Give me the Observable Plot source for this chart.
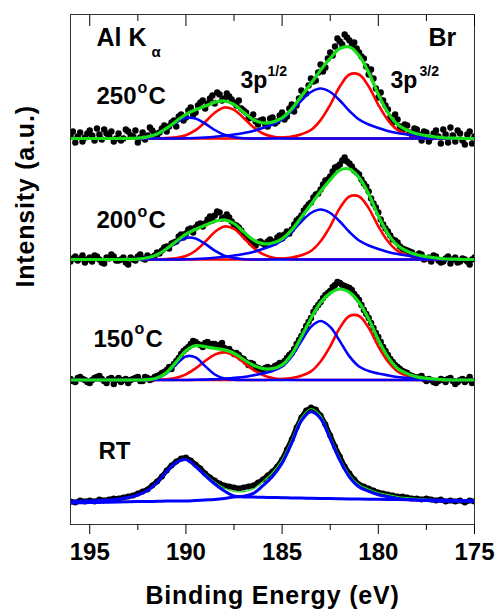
<!DOCTYPE html>
<html><head><meta charset="utf-8">
<script src="https://cdn.jsdelivr.net/npm/d3@7"></script>
<script src="https://cdn.jsdelivr.net/npm/@observablehq/plot@0.6"></script>
<style>
body{margin:0;background:#fff;}
#chart svg{display:block;}
</style></head><body><div id="chart"></div>
<script>
// ---------- data (heights above each panel's baseline, arbitrary units) ----------
const panelNames = ["RT", "150", "200", "250"];
const panelBaselines = [23, 144.5, 265, 386];
const majorTicks = [195, 190, 185, 180, 175];
const minorTicks = [192.5, 187.5, 182.5, 177.5];
// sampling grids (eV)
const fitEnergies = d3.range(43).map(i => 196 - i * 0.5);
const dataEnergies = d3.range(85).map(i => 196 - i * 0.25);
const denseEnergies = d3.range(169).map(i => 196 - i * 0.125);

// 250 °C  (measured points on the 0.25 eV grid, and the in-between points)
const data250 = [3,-4,6,1,8,-2,4,9,2,-3, 5,0,7,2,-4,6,3,8,2,10, 7,16,12,24,21,31,26,36,30,40, 35,44,40,42,36,38,28,20,24,14, 19,12,21,17,26,22,34,33,48,45, 60,58,74,71,86,92,97,104,98,96, 86,80,64,60,41,38,29,16,19,8, 13,3,9,-2,6,1,8,-5,4,11, -3,5,-6,7,2];
const mid250 = [7,2,-3,5,3,10,-1,5,7,0, -2,9,3,8,1,-1,11,5,6,13, 12,18,22,18,28,24,33,38,35,43, 46,38,45,39,33,30,26,21,17,18, 14,20,15,23,19,30,27,40,44,53, 57,66,67,80,83,100,94,101,93,90, 82,72,69,50,46,33,21,24,12,14, 6,10,4,7,-3,5,2,9,-4,3, 8,-2,4,-5];
const env250 = [0,0,0,0,0,0,0.1,0.4,1.6,4.5, 10.3,17.4,24.2,28.8,32.4,36.1,37.5,34,26.3,18.9, 15.5,16.4,20.6,29.6,42.3,55,68.4,80.2,90,91.5, 83,66,44.2,25.9,14,8.3,4.7,2.8,1.5,0.5, 0.3,0,0];
const redBig250 = [0,0,0,0,0,0,0,0,0,0, 0,0,0,0,0,0,0,0,0,0, 0,0.5,1,1.9,4.3,8.5,18.4,33.7,52,64, 64,52,33.7,18.4,8.5,4.3,1.9,1,0.5,0, 0,0,0];
const redSmall250 = [0,0,0,0,0,0,0,0,0,0, 0.5,1.2,3.3,8.3,16.5,25.8,31,28.7,20.5,11.4, 5,1.9,0.6,0.2,0,0,0,0,0,0, 0,0,0,0,0,0,0,0,0,0, 0,0,0];
const blueBig250 = [0,0,0,0,0,0,0,0,0,0, 0,0,0.25,0.5,1,1.75,2.75,4,5.5,7.5, 10.5,14,19,27.5,38,46.5,50,46.5,38,27.5, 19,14,10.5,7.5,5.5,4,2.75,1.75,1,0.5, 0.25,0,0];
const blueSmall250 = [0,0,0,0,0,0,0.1,0.4,1.6,4.5, 9.8,16.2,20.6,20,14.9,8.5,3.7,1.3,0.3,0, 0,0,0,0,0,0,0,0,0,0, 0,0,0,0,0,0,0,0,0,0, 0,0,0];

// 200 °C
const data200 = [-2,3,1,-3,2,4,0,-4,1,3, -1,2,-5,0,3,1,4,2,7,9, 13,16,18,25,26,31,32,36,36,43, 44,47,42,42,35,32,25,20,15,17, 16,18,18,22,21,28,30,39,44,52, 57,65,70,79,83,92,95,102,96,89, 85,76,68,56,47,35,28,20,17,11, 9,7,3,5,1,-2,3,-3,1,-4, 2,-2,0,-5,2];
const mid200 = [1,-1,4,0,-2,3,-3,2,5,-1, 0,-3,2,-1,5,0,2,4,6,12, 11,17,23,22,30,27,35,33,40,39, 48,41,45,38,34,29,22,17,14,18, 14,20,17,24,25,26,35,41,49,55, 62,66,75,80,88,93,99,98,93,87, 80,73,61,52,40,31,24,19,13,10, 8,4,6,0,2,4,-1,-2,3,0, -3,1,-2,0];
const env200 = [0,0,0,0,0,0,0.1,0.4,1.7,4.7, 10.8,18.3,25.4,30.3,34.2,38.2,39.7,36,27.6,19.6, 15.8,16.5,20.7,29.7,42.2,55,68.2,79.7,89.4,90.5, 82,65.4,43.7,25.7,14,8.2,4.8,2.8,1.5,0.5, 0.3,0,0];
const redBig200 = [0,0,0,0,0,0,0,0,0,0, 0,0,0,0,0,0,0,0,0,0, 0,0.5,1,2,4.2,8.5,18.2,33.2,51.4,63, 63,51.4,33.2,18.2,8.5,4.2,2,1,0.5,0, 0,0,0];
const redSmall200 = [0,0,0,0,0,0,0,0,0,0, 0.5,1.3,3.5,8.8,17.6,27.5,33,30.6,21.8,12.1, 5.3,2,0.7,0.2,0,0,0,0,0,0, 0,0,0,0,0,0,0,0,0,0, 0,0,0];
const blueBig200 = [0,0,0,0,0,0,0,0,0,0, 0,0,0.25,0.5,1,1.75,2.75,4,5.5,7.5, 10.5,14,19,27.5,38,46.5,50,46.5,38,27.5, 19,14,10.5,7.5,5.5,4,2.75,1.75,1,0.5, 0.25,0,0];
const blueSmall200 = [0,0,0,0,0,0,0.1,0.4,1.7,4.7, 10.3,17,21.6,21,15.6,8.9,3.9,1.4,0.3,0, 0,0,0,0,0,0,0,0,0,0, 0,0,0,0,0,0,0,0,0,0, 0,0,0];

// 150 °C
const data150 = [1,-2,3,0,-3,2,4,-1,1,-4, 2,0,-3,1,3,-1,2,1,4,7, 10,11,19,26,31,36,38,35,37,34, 36,35,32,31,26,25,21,15,16,12, 10,13,12,15,16,22,27,36,44,54, 62,72,78,85,89,95,97,94,92,86, 80,70,62,52,43,33,25,18,13,9, 7,4,2,4,-1,0,-3,1,-2,2, -4,0,-2,3,-1];
const mid150 = [-1,2,1,-2,0,3,1,-3,2,0, -2,1,0,2,-1,3,0,3,5,8, 13,16,22,29,33,39,36,33,38,36, 34,37,30,28,27,22,18,17,13,11, 12,11,14,17,19,25,31,40,49,58, 68,75,82,87,93,98,95,93,90,83, 75,66,57,47,38,29,21,15,11,8, 5,3,3,1,1,-2,-1,0,1,-1, -2,1,0,-3];
const env150 = [0,0,0,0,0,0,0,0,0.3,2.1, 7.6,18.1,29.3,34.4,33.3,31.6,30.1,26.7,20.5,14.8, 11.4,11.4,15.1,25.8,43.2,61.7,77.5,86.8,91,87.6, 77.5,61.1,40.2,23.1,11.6,6.4,3.1,1.7,0.9,0.2, 0,0,0];
const redBig150 = [0,0,0,0,0,0,0,0,0,0, 0,0,0,0,0,0,0,0,0,0, 0,0.5,1,2,4.3,8.6,18.5,33.7,52.1,64, 64,52.1,33.7,18.5,8.6,4.3,2,1,0.5,0, 0,0,0];
const redSmall150 = [0,0,0,0,0,0,0,0,0,0.2, 0.8,2.3,5.7,11.6,19,25.4,27.6,24.4,17.5,10.2, 4.9,1.9,0.6,0.2,0,0,0,0,0,0, 0,0,0,0,0,0,0,0,0,0, 0,0,0];
const blueBig150 = [0,0,0,0,0,0,0,0,0,0, 0,0,0,0.2,0.4,0.7,1.1,2.1,3,4.6, 6.5,9,13.5,23.6,38.9,53.1,59,53.1,38.9,23.6, 13.5,9,6.5,4.6,3,2.1,1.1,0.7,0.4,0.2, 0,0,0];
const blueSmall150 = [0,0,0,0,0,0,0,0,0.3,1.9, 6.8,15.8,23.6,22.6,13.9,5.5,1.4,0.2,0,0, 0,0,0,0,0,0,0,0,0,0, 0,0,0,0,0,0,0,0,0,0, 0,0,0];

// RT
const dataRT = [0,-1,1,0,1,0,2,1,2,3, 3,4,5,6,8,10,12,16,20,25, 31,36,40,43,44,41,37,33,28,24, 21,18,16,15,14,13,14,15,16,19, 22,26,30,35,42,52,62,74,84,91, 94,92,86,77,66,55,45,35,28,22, 17,15,13,11,9,8,7,6,5,5, 4,3,3,2,3,2,1,2,0,1, 0,1,-1,1,0];
const envRT = [0,0.3,0.6,1,1.6,2.5,4,6.5,11,19, 30.5,39.5,42.5,36,27.5,19.5,13.5,10,9.8,12.5, 20,29,42,62,84,93,86,65.5,44,27, 17,12.5,9,6.8,5,3.8,3.2,2.4,1.8,1.5, 1.3,1.1,1];
const compA_RT = [0,0.3,0.6,1,1.6,2.5,4,6.5,11,19, 30,39,42,35,26,17.5,10.5,5.5,4.6,4.4, 4.2,4,3.8,3.6,3.4,3.2,3,2.9,2.8,2.6, 2.5,2.3,2.2,2,1.9,1.8,1.6,1.5,1.3,1.2, 1,0.9,0.7];
const compB_RT = [-1.5,-1.3,-1.1,-0.9,-0.7,-0.5,-0.3,-0.1,0,0.2, 0.5,0.5,0.5,1,1.5,2,3,4.5,5.2,8.1, 15.8,25,38.2,58.4,80.6,89.8,83,62.6,41.2,24.4, 14.5,10.2,6.8,4.8,3.1,2,1.6,0.9,0.5,0.3, 0.3,0.2,0.2];

// ---------- styling ----------
const RED = "#ff0000", BLUE = "#0000ff", GREEN = "#18e018";
const FONT = "'Liberation Sans', Arial, Helvetica, sans-serif";

function series(values, energies, base) {
  return values.map((v, i) => ({E: energies[i], I: base + v}));
}
function interleave(a, b) {
  const out = [];
  a.forEach((v, i) => { out.push(v); if (i < b.length) out.push(b[i]); });
  return out;
}
function fit(values, base, color, width) {
  return Plot.line(series(values, fitEnergies, base), {x: "E", y: "I", stroke: color, strokeWidth: width, curve: "catmull-rom", clip: true});
}
function fittedPanel(base, data, mid, env, reds, blues) {
  const d = series(interleave(data, mid), denseEnergies, base);
  return [
    Plot.line(d, {x: "E", y: "I", stroke: "#666", strokeWidth: 0.5, clip: true}),
    Plot.dot(d, {x: "E", y: "I", r: 3.2, fill: "black", stroke: "none", clip: true}),
    ...reds.map(v => fit(v, base, RED, 2.6)),
    ...blues.map(v => fit(v, base, BLUE, 2.6)),
    fit(env, base, GREEN, 3.2)
  ];
}
function rtPanel(base) {
  const d = series(dataRT, dataEnergies, base);
  return [
    Plot.line(d, {x: "E", y: "I", stroke: "black", strokeWidth: 5, clip: true}),
    Plot.dot(d, {x: "E", y: "I", r: 3, fill: "black", stroke: "none", clip: true}),
    fit(envRT, base, GREEN, 1.2),
    fit(compA_RT, base, BLUE, 3),
    fit(compB_RT, base, BLUE, 3)
  ];
}
// label placed by its baseline-start pixel position
function label(text, px, py, size, weight = "bold") {
  return Plot.text([text], {frameAnchor: "top-left", dx: px - 70, dy: py - 14, text: d => d,
    fontSize: size, fontWeight: weight, textAnchor: "start", lineAnchor: "bottom", fill: "black"});
}

const chart = Plot.plot({
  width: 495, height: 611,
  marginLeft: 70, marginRight: 21, marginTop: 14, marginBottom: 87,
  style: {fontFamily: FONT, color: "black", background: "white"},
  x: {domain: [196, 175], label: null},
  y: {domain: [0, 510], axis: null},
  marks: [
    ...rtPanel(panelBaselines[0]),
    ...fittedPanel(panelBaselines[1], data150, mid150, env150, [redBig150, redSmall150], [blueBig150, blueSmall150]),
    ...fittedPanel(panelBaselines[2], data200, mid200, env200, [redBig200, redSmall200], [blueBig200, blueSmall200]),
    ...fittedPanel(panelBaselines[3], data250, mid250, env250, [redBig250, redSmall250], [blueBig250, blueSmall250]),
    Plot.frame({stroke: "#333", strokeWidth: 1}),
    Plot.axisX(majorTicks, {anchor: "bottom", tickSize: 10, tickPadding: 8, fontSize: 24, fontWeight: "bold", label: null}),
    Plot.axisX(minorTicks, {anchor: "bottom", tickSize: 6, tickFormat: () => "", label: null}),
    Plot.axisX(majorTicks, {anchor: "top", tickSize: 11, dy: 11, tickFormat: () => "", label: null}),
    Plot.axisX(minorTicks, {anchor: "top", tickSize: 6, dy: 6, tickFormat: () => "", label: null}),
    Plot.text(["Binding Energy (eV)"], {frameAnchor: "bottom", dy: 79, lineAnchor: "bottom", fontSize: 25, fontWeight: "bold", fill: "black"}),
    Plot.text(["Intensity (a.u.)"], {frameAnchor: "left", dx: -37, dy: 18, rotate: -90, lineAnchor: "bottom", fontSize: 25, fontWeight: "bold", fill: "black"}),
    label("Al K", 96, 45, 25),
    label("α", 151, 56, 15),
    label("Br", 428, 45, 25),
    label("3p", 240, 87, 23),
    label("1/2", 267, 75, 14),
    label("3p", 390, 87, 23),
    label("3/2", 419, 75, 14),
    label(panelNames[3], 96, 103, 24), label("o", 137, 92, 16), label("C", 148, 103, 24),
    label(panelNames[2], 96, 227, 24), label("o", 137, 216, 16), label("C", 148, 227, 24),
    label(panelNames[1], 93, 346, 24), label("o", 134, 333, 16), label("C", 145, 346, 24),
    label(panelNames[0], 98, 458, 24)
  ]
});
chart.querySelectorAll("text").forEach(t => {
  if (t.textContent === "Binding Energy (eV)" || t.textContent === "Intensity (a.u.)") t.style.letterSpacing = "0.8px";
});
document.getElementById("chart").appendChild(chart);
</script>
</body></html>
